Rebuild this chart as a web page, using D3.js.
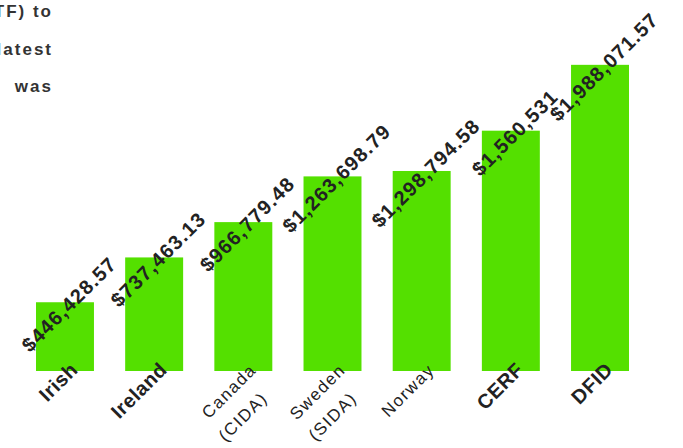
<!DOCTYPE html>
<html>
<head>
<meta charset="utf-8">
<script src="https://cdn.jsdelivr.net/npm/d3@7"></script>
<style>
  body { margin: 0; background: #fff; }
  svg { display: block; font-family: "Liberation Sans", Arial, sans-serif; }
</style>
</head>
<body>
<div id="my_dataviz"></div>
<script>
// Chart data
const donors = ["Irish", "Ireland", "Canada (CIDA)", "Sweden (SIDA)", "Norway", "CERF", "DFID"];
const amounts = [446428.57, 737463.13, 966779.48, 1263698.79, 1298794.58, 1560531, 1988071.57];
const amountLabels = ["$446,428.57", "$737,463.13", "$966,779.48", "$1,263,698.79", "$1,298,794.58", "$1,560,531", "$1,988,071.57"];
const boldDonors = ["Irish", "Ireland", "CERF", "DFID"];
const introLines = ["(CHTF) to", "the latest", "was"];

const width = 683;
const height = 448;

const data = donors.map((d, i) => ({ donor: d, amount: amounts[i], label: amountLabels[i] }));

const svg = d3.select("#my_dataviz")
    .append("svg")
    .attr("width", width)
    .attr("height", height);

// Scales
const x = d3.scaleBand()
    .domain(donors)
    .range([36, 629])
    .paddingInner(0.35)
    .paddingOuter(0);

const y = d3.scaleLinear()
    .domain([0, 2000000])
    .range([371, 63]);

// Cropped intro paragraph in the top-left corner
svg.selectAll(".intro")
    .data(introLines)
    .join("text")
    .attr("class", "intro")
    .attr("x", 53)
    .attr("y", (d, i) => 17 + i * 37.5)
    .attr("text-anchor", "end")
    .attr("font-size", 17)
    .attr("font-weight", "bold")
    .attr("letter-spacing", 2)
    .attr("fill", "#333")
    .text(d => d);

// Bars
svg.selectAll(".bar")
    .data(data)
    .join("rect")
    .attr("class", "bar")
    .attr("x", d => x(d.donor))
    .attr("width", x.bandwidth())
    .attr("y", d => y(d.amount))
    .attr("height", d => y(0) - y(d.amount))
    .attr("fill", "#54e000");

// Value labels, rotated
svg.selectAll(".value")
    .data(data)
    .join("text")
    .attr("class", "value")
    .attr("transform", d => `translate(${x(d.donor) + x.bandwidth() / 2 + 4}, ${y(d.amount) + 2}) rotate(-45)`)
    .attr("text-anchor", "middle")
    .attr("dy", "0.35em")
    .attr("font-size", 20)
    .attr("font-weight", "bold")
    .attr("letter-spacing", 1.2)
    .attr("fill", "#222")
    .text(d => d.label);

// Category labels, rotated, some on two lines
const cats = svg.selectAll(".cat")
    .data(data)
    .join("text")
    .attr("class", "cat")
    .attr("transform", d => `translate(${x(d.donor) + x.bandwidth() / 2 + 14}, ${y(0)}) rotate(-45)`)
    .attr("text-anchor", "end")
    .attr("fill", "#222")
    .attr("font-weight", d => boldDonors.includes(d.donor) ? "bold" : "normal")
    .attr("font-size", d => boldDonors.includes(d.donor) ? 20 : 17)
    .attr("letter-spacing", d => boldDonors.includes(d.donor) ? 0.5 : 1.5);

cats.each(function(d) {
    const parts = d.donor.split(" ");
    const t = d3.select(this);
    parts.forEach((p, i) => {
        t.append("tspan")
            .attr("x", i === 0 ? 0 : -12)
            .attr("dy", i === 0 ? 0 : 28)
            .text(p);
    });
});
</script>
</body>
</html>
